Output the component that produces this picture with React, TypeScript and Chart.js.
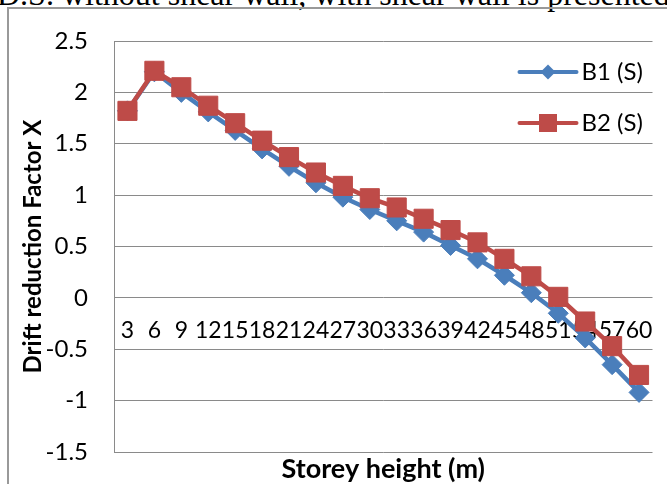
import React, { useEffect, useRef } from "react";
import { Chart, registerables } from "chart.js";

Chart.register(...registerables);

const categories = ["3", "6", "9", "12", "15", "18", "21", "24", "27", "30", "33", "36", "39", "42", "45", "48", "51", "54", "57", "60"];
const b1Values = [1.82, 2.2, 2.0, 1.81, 1.63, 1.45, 1.28, 1.12, 0.98, 0.86, 0.75, 0.64, 0.51, 0.38, 0.22, 0.05, -0.15, -0.39, -0.65, -0.92];
const b2Values = [1.82, 2.21, 2.05, 1.87, 1.7, 1.53, 1.37, 1.22, 1.09, 0.97, 0.88, 0.77, 0.66, 0.54, 0.38, 0.21, 0.01, -0.23, -0.47, -0.75];
const yTickValues = [2.5, 2, 1.5, 1, 0.5, 0, -0.5, -1, -1.5];
const seriesNames = ["B1 (S)", "B2 (S)"];
const xTitle = "Storey height (m)";
const yTitle = "Drift reduction Factor X";
const caption = "D.S. without shear wall, with shear wall is presented";

const BLUE = "#4A7EBB";
const RED = "#BE4B48";
const GRID = "#8a8a8a";
const FONT = "Lato, 'Open Sans', sans-serif";

const xLabelPlugin = {
  id: "xLabelsAtZero",
  beforeDatasetsDraw(chart: any) {
    const { ctx } = chart;
    const xs = chart.scales.x;
    const ys = chart.scales.y;
    const y = ys.getPixelForValue(0) + 33;
    ctx.save();
    ctx.font = `23px ${FONT}`;
    ctx.fillStyle = "#000";
    ctx.textAlign = "center";
    ctx.textBaseline = "middle";
    categories.forEach((c, i) => ctx.fillText(c, xs.getPixelForValue(i), y));
    ctx.restore();
  },
};

const legendPlugin = {
  id: "insideLegend",
  afterDatasetsDraw(chart: any) {
    const { ctx, chartArea } = chart;
    const x0 = chartArea.right - 133;
    const x1 = chartArea.right - 76;
    const mx = (x0 + x1) / 2;
    const tx = chartArea.right - 71;
    const rows = [
      { name: seriesNames[0], color: BLUE, style: "diamond", y: chartArea.top + 31 },
      { name: seriesNames[1], color: RED, style: "square", y: chartArea.top + 82 },
    ];
    ctx.save();
    rows.forEach((r) => {
      ctx.strokeStyle = r.color;
      ctx.lineWidth = 4;
      ctx.lineCap = "round";
      ctx.beginPath();
      ctx.moveTo(x0, r.y);
      ctx.lineTo(x1, r.y);
      ctx.stroke();
      ctx.fillStyle = r.color;
      ctx.beginPath();
      if (r.style === "diamond") {
        const s = 7.5;
        ctx.moveTo(mx - s, r.y);
        ctx.lineTo(mx, r.y - s);
        ctx.lineTo(mx + s, r.y);
        ctx.lineTo(mx, r.y + s);
        ctx.closePath();
      } else {
        const s = 9;
        ctx.rect(mx - s, r.y - s, 2 * s, 2 * s);
      }
      ctx.fill();
      ctx.fillStyle = "#000";
      ctx.font = `24px ${FONT}`;
      ctx.textAlign = "left";
      ctx.textBaseline = "middle";
      ctx.fillText(r.name, tx, r.y);
    });
    ctx.restore();
  },
};

export default function App() {
  const ref = useRef<HTMLCanvasElement | null>(null);

  useEffect(() => {
    if (!ref.current) return;
    const chart = new Chart(ref.current, {
      type: "line",
      data: {
        labels: categories,
        datasets: [
          {
            label: seriesNames[0],
            data: b1Values,
            borderColor: BLUE,
            backgroundColor: BLUE,
            borderWidth: 4.5,
            pointStyle: "rectRot",
            pointRadius: 10,
            pointBorderWidth: 1,
            pointBackgroundColor: BLUE,
            pointBorderColor: BLUE,
            tension: 0,
            order: 1,
          },
          {
            label: seriesNames[1],
            data: b2Values,
            borderColor: RED,
            backgroundColor: RED,
            borderWidth: 4.5,
            pointStyle: "rect",
            pointRadius: 13.5,
            pointBorderWidth: 1,
            pointBackgroundColor: RED,
            pointBorderColor: RED,
            tension: 0,
            order: 0,
          },
        ],
      },
      options: {
        animation: false,
        responsive: false,
        devicePixelRatio: 1,
        layout: { padding: { top: 41, right: 6, left: 0, bottom: 0 } },
        plugins: {
          legend: { display: false },
          tooltip: { enabled: false },
          title: { display: false },
        },
        scales: {
          x: {
            type: "category",
            offset: true,
            grid: { display: false },
            border: { display: false },
            ticks: { display: false },
            title: {
              display: true,
              text: xTitle,
              color: "#000",
              font: { family: FONT, size: 27, weight: "bold" },
              padding: { top: 0, bottom: -1 },
            },
            afterFit: (s: any) => {
              s.height = 32;
            },
          },
          y: {
            min: -1.5,
            max: 2.5,
            afterBuildTicks: (s: any) => {
              s.ticks = yTickValues.map((v) => ({ value: v }));
            },
            ticks: {
              padding: 26,
              color: "#000",
              font: { family: FONT, size: 24 },
              callback: (v: any) => String(v),
            },
            grid: { color: GRID, lineWidth: 1, drawTicks: false },
            border: { color: GRID, width: 1 },
            title: {
              display: true,
              text: yTitle,
              color: "#000",
              font: { family: FONT, size: 24, weight: "bold" },
              padding: { top: 19, bottom: 0 },
            },
            afterFit: (s: any) => {
              s.width = 114;
              s.paddingTop = 0;
              s.paddingBottom = 0;
            },
          },
        },
      },
      plugins: [xLabelPlugin, legendPlugin],
    } as any);
    return () => chart.destroy();
  }, []);

  return (
    <div
      style={{
        position: "fixed",
        left: 0,
        top: 0,
        width: 667,
        height: 484,
        overflow: "hidden",
        background: "#fff",
      }}
    >
      <div
        style={{
          position: "absolute",
          left: -3,
          top: -22,
          whiteSpace: "nowrap",
          fontFamily: "'Liberation Serif', 'Times New Roman', serif",
          fontSize: 32,
          lineHeight: "32px",
          color: "#000",
        }}
      >
        {caption}
      </div>
      <div
        style={{
          position: "absolute",
          left: 7,
          top: 7,
          width: 720,
          height: 540,
          border: "2px solid #999",
          boxSizing: "border-box",
        }}
      />
      <canvas
        ref={ref}
        width={667}
        height={484}
        style={{ position: "absolute", left: 0, top: 0, width: 667, height: 484 }}
      />
    </div>
  );
}
